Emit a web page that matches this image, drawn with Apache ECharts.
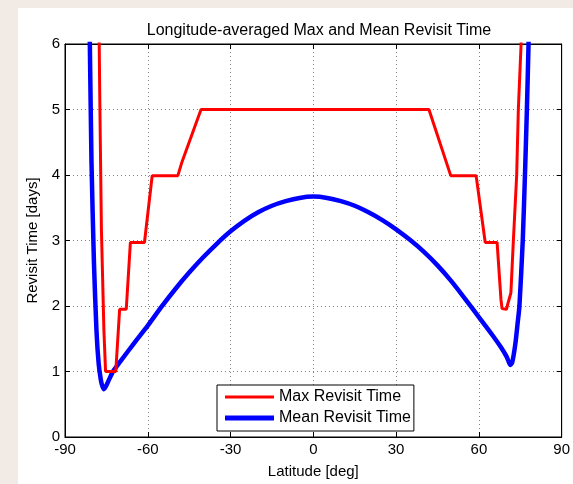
<!DOCTYPE html>
<html>
<head>
<meta charset="utf-8">
<script src="https://cdn.jsdelivr.net/npm/echarts@6/dist/echarts.min.js"></script>
<style>
html,body{margin:0;padding:0;background:#f2ebe5;}
#chart{width:573px;height:484px;}
</style>
</head>
<body>
<div id="chart"></div>
<script>
const titleText = 'Longitude-averaged Max and Mean Revisit Time';
const xName = 'Latitude [deg]';
const yName = 'Revisit Time [days]';
const seriesNames = ['Max Revisit Time', 'Mean Revisit Time'];
const xTicks = [-90, -60, -30, 0, 30, 60, 90];
const yTicks = [0, 1, 2, 3, 4, 5, 6];

// Max revisit time (latitude, days)
const maxLat = [-77.9, -77.6, -77.4, -76.8, -75.9, -75.3, -71.6, -70.2, -67.8, -66.3, -61.2, -58.4, -49.1, -47.6, -40.7,
  41.9, 49.8, 59.0, 62.3, 66.6, 68.0, 68.4, 70.0, 70.6, 71.6, 72.5, 73.7, 74.3, 75.3, 75.5];
const maxVal = [6.6, 6.0, 5.2, 3.16, 1.63, 1.0, 1.0, 1.95, 1.95, 2.97, 2.97, 3.99, 3.99, 4.2, 5.0,
  5.0, 3.99, 3.99, 2.97, 2.97, 2.1, 1.96, 1.95, 2.05, 2.2, 3.0, 4.0, 5.0, 6.0, 6.6];

// Mean revisit time (latitude, days)
const meanLat = [-81.3, -81.0, -80.4, -79.5, -78.6, -77.8, -77.0, -76.4, -75.9, -75.2, -74.0, -72.6, -70, -65, -60,
  -55, -50, -45, -40, -35, -30, -25, -20, -15, -10, -5, 0, 5, 10, 15, 20, 25, 30, 35, 40, 45, 50,
  55, 60, 65, 68, 70, 70.8, 71.4, 72.0, 72.6, 73.3, 74.0, 74.7, 75.9, 76.7, 77.4, 78.0, 78.3];
const meanVal = [6.6, 6.0, 4.2, 2.65, 1.63, 1.12, 0.87, 0.77, 0.73, 0.77, 0.88, 1.0, 1.15, 1.43, 1.70,
  1.99, 2.26, 2.51, 2.74, 2.95, 3.14, 3.30, 3.43, 3.53, 3.60, 3.65, 3.67, 3.65, 3.60, 3.53, 3.43, 3.31, 3.17, 3.01, 2.83, 2.62, 2.38,
  2.11, 1.83, 1.55, 1.37, 1.23, 1.15, 1.10, 1.13, 1.25, 1.45, 1.72, 2.0, 3.0, 4.0, 5.0, 6.0, 6.6];

const maxData = maxLat.map((x, i) => [x, maxVal[i]]);
const meanData = meanLat.map((x, i) => [x, meanVal[i]]);

const FONT = '"Liberation Sans", Arial, Helvetica, sans-serif';
const chart = echarts.init(document.getElementById('chart'), null, {renderer: 'canvas'});
const gridLine = {show: true, lineStyle: {color: '#808080', type: [1, 3], width: 1}};

chart.setOption({
  animation: false,
  backgroundColor: 'transparent',
  graphic: [{
    type: 'rect', z: -100, silent: true,
    shape: {x: 18, y: 8, width: 555, height: 476},
    style: {fill: '#ffffff'}
  }],
  title: {
    text: titleText, left: 314, top: 18, textAlign: 'center',
    textStyle: {fontFamily: FONT, fontSize: 16, fontWeight: 'normal', color: '#000'}
  },
  grid: {left: 65, right: 9, top: 44, bottom: 47, show: true, borderColor: '#000', borderWidth: 1, backgroundColor: '#fff'},
  legend: {
    orient: 'vertical', left: 217, top: 385,
    data: [
      {name: seriesNames[0], icon: 'path://M0,0M49,14M0,5.5H49V8.5H0Z'},
      {name: seriesNames[1], icon: 'path://M0,0M49,14M0,4.5H49V9.5H0Z'}
    ],
    backgroundColor: '#fff', borderColor: '#000', borderWidth: 1, borderRadius: 0,
    padding: [3, 3, 4, 8], itemGap: 3, itemWidth: 49, itemHeight: 14,
    textStyle: {fontFamily: FONT, fontSize: 16, color: '#000', lineHeight: 18}
  },
  xAxis: [{
    type: 'value', min: xTicks[0], max: xTicks[xTicks.length - 1], interval: 30, position: 'bottom',
    name: xName, nameLocation: 'middle', nameGap: 27,
    nameTextStyle: {fontFamily: FONT, fontSize: 15, color: '#000'},
    axisLine: {show: true, onZero: false, lineStyle: {color: '#000'}},
    axisTick: {show: true, inside: true, length: 5, lineStyle: {color: '#000'}},
    axisLabel: {fontFamily: FONT, fontSize: 15, color: '#000', margin: 5},
    splitLine: gridLine
  }, {
    type: 'value', min: xTicks[0], max: xTicks[xTicks.length - 1], interval: 30, position: 'top',
    axisLine: {show: true, onZero: false, lineStyle: {color: '#000'}},
    axisTick: {show: true, inside: true, length: 5, lineStyle: {color: '#000'}},
    axisLabel: {show: false}, splitLine: {show: false}
  }],
  yAxis: [{
    type: 'value', min: yTicks[0], max: yTicks[yTicks.length - 1], interval: 1, position: 'left',
    name: yName, nameLocation: 'middle', nameGap: 21, nameRotate: 90,
    nameTextStyle: {fontFamily: FONT, fontSize: 15, color: '#000'},
    axisLine: {show: true, onZero: false, lineStyle: {color: '#000'}},
    axisTick: {show: true, inside: true, length: 5, lineStyle: {color: '#000'}},
    axisLabel: {fontFamily: FONT, fontSize: 15, color: '#000', margin: 5},
    splitLine: gridLine
  }, {
    type: 'value', min: yTicks[0], max: yTicks[yTicks.length - 1], interval: 1, position: 'right',
    axisLine: {show: true, onZero: false, lineStyle: {color: '#000'}},
    axisTick: {show: true, inside: true, length: 5, lineStyle: {color: '#000'}},
    axisLabel: {show: false}, splitLine: {show: false}
  }],
  series: [{
    name: seriesNames[0], type: 'line', data: maxData, xAxisIndex: 0, yAxisIndex: 0,
    symbol: 'none', clip: true, z: 3,
    itemStyle: {color: '#ff0000'},
    lineStyle: {color: '#ff0000', width: 3}
  }, {
    name: seriesNames[1], type: 'line', data: meanData, xAxisIndex: 0, yAxisIndex: 0,
    symbol: 'none', clip: true, z: 2, smooth: 0.2,
    itemStyle: {color: '#0000ff'},
    lineStyle: {color: '#0000ff', width: 4.5}
  }]
});
</script>
</body>
</html>
